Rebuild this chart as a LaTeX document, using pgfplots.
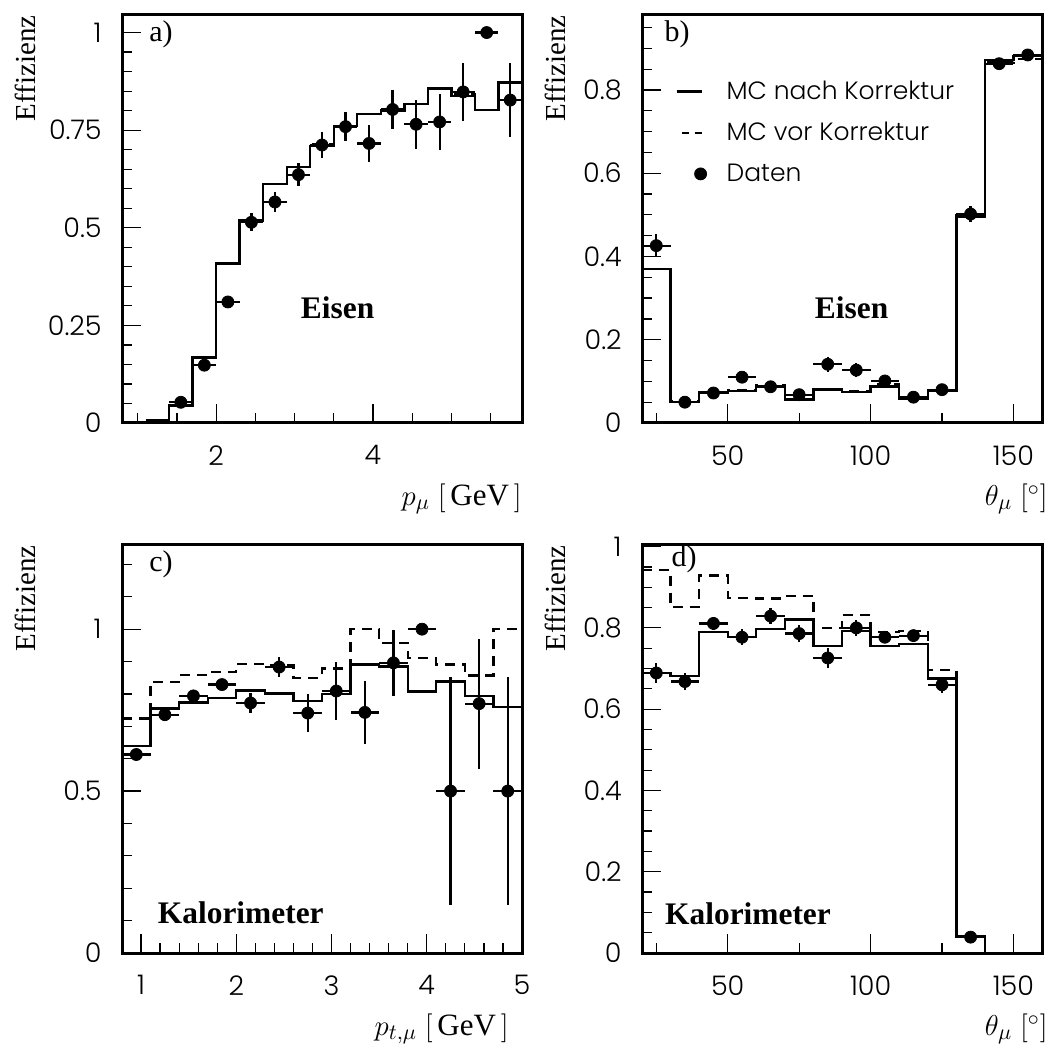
\documentclass[border=0pt]{standalone}
\usepackage{fontspec}
\setmainfont{Liberation Serif}
\newfontfamily\paw{Poppins Light}
\usepackage{pgfplots}
\usepackage{pgfplotstable}
\pgfplotsset{compat=1.18}

% ---------------- data ----------------
% efficiency vs p_mu (iron)
\pgfplotstableread{
x    y     ey
1.55 0.053 0.008
1.85 0.148 0.012
2.15 0.310 0.015
2.45 0.514 0.023
2.75 0.566 0.026
3.05 0.636 0.030
3.35 0.712 0.033
3.65 0.759 0.037
3.95 0.716 0.047
4.25 0.803 0.050
4.55 0.765 0.062
4.85 0.771 0.072
5.15 0.848 0.074
5.45 1.000 0.000
5.75 0.827 0.094
}\adata
\pgfplotstableread{
x   y
1.1 0.007
1.4 0.043
1.7 0.168
2.0 0.408
2.3 0.519
2.6 0.612
2.9 0.655
3.2 0.709
3.5 0.760
3.8 0.791
4.1 0.800
4.4 0.817
4.7 0.857
5.0 0.837
5.3 0.801
5.6 0.872
5.9 0.872
}\amcnach
\pgfplotstableread{
x   y
1.1 0.007
1.4 0.045
1.7 0.168
2.0 0.408
2.3 0.519
2.6 0.612
2.9 0.655
3.2 0.714
3.5 0.760
3.8 0.791
4.1 0.800
4.4 0.817
4.7 0.857
5.0 0.842
5.3 0.801
5.6 0.872
5.9 0.872
}\amcvor

% efficiency vs theta_mu (iron)
\pgfplotstableread{
x   y     ey
25  0.426 0.028
35  0.050 0.005
45  0.072 0.006
55  0.110 0.008
65  0.087 0.008
75  0.068 0.008
85  0.141 0.018
95  0.127 0.016
105 0.101 0.010
115 0.062 0.008
125 0.080 0.008
135 0.502 0.020
145 0.863 0.010
155 0.884 0.010
}\bdata
\pgfplotstableread{
x   y
20  0.370
30  0.050
40  0.073
50  0.077
60  0.089
70  0.056
80  0.080
90  0.075
100 0.088
110 0.059
120 0.077
130 0.496
140 0.872
150 0.882
160 0.882
}\bmcnach
\pgfplotstableread{
x   y
20  0.370
30  0.052
40  0.075
50  0.078
60  0.091
70  0.067
80  0.081
90  0.076
100 0.092
110 0.060
120 0.079
130 0.498
140 0.866
150 0.874
160 0.874
}\bmcvor

% efficiency vs p_t,mu (calorimeter)
\pgfplotstableread{
x    y     ey
0.95 0.613 0.010
1.25 0.736 0.012
1.55 0.794 0.010
1.85 0.829 0.012
2.15 0.772 0.030
2.45 0.883 0.031
2.75 0.741 0.059
3.05 0.809 0.089
3.35 0.743 0.098
3.65 0.896 0.101
3.95 1.000 0.000
4.25 0.500 0.352
4.55 0.770 0.201
4.85 0.500 0.352
}\cdata
\pgfplotstableread{
x   y
0.8 0.640
1.1 0.755
1.4 0.773
1.7 0.787
2.0 0.811
2.3 0.801
2.6 0.778
2.9 0.800
3.2 0.891
3.5 0.885
3.8 0.808
4.1 0.839
4.4 0.794
4.7 0.760
5.0 0.760
}\cmcnach
\pgfplotstableread{
x   y
0.8 0.724
1.1 0.837
1.4 0.859
1.7 0.868
2.0 0.893
2.3 0.888
2.6 0.850
2.9 0.878
3.2 1.000
3.5 0.957
3.8 0.911
4.1 0.891
4.4 0.857
4.7 1.000
5.0 1.000
}\cmcvor

% efficiency vs theta_mu (calorimeter)
\pgfplotstableread{
x   y     ey
25  0.689 0.025
35  0.668 0.020
45  0.811 0.016
55  0.777 0.020
65  0.829 0.020
75  0.786 0.020
85  0.726 0.025
95  0.800 0.020
105 0.777 0.015
115 0.781 0.012
125 0.660 0.020
135 0.039 0.005
}\ddata
\pgfplotstableread{
x   y
20  0.689
30  0.681
40  0.790
50  0.777
60  0.798
70  0.821
80  0.755
90  0.793
100 0.755
110 0.760
120 0.675
130 0.041
140 0.000
160 0.000
}\dmcnach
\pgfplotstableread{
x   y
20  0.942
30  0.851
40  0.929
50  0.874
60  0.872
70  0.878
80  0.800
90  0.831
100 0.790
110 0.792
120 0.697
130 0.041
140 0.000
160 0.000
}\dmcvor

% ---------------- styles ----------------
\pgfplotsset{
  panel/.style={
    scale only axis, width=200pt, height=204pt,
    axis line style={line width=1.5pt},
    tick align=inside, tick pos=left,
    major tick length=9.5pt, minor tick length=5pt,
    every tick/.style={black, line width=0.6pt},
    tick label style={font=\paw\fontsize{13.5}{15}\selectfont},
    /pgf/number format/assume math mode=true,
    y tick label style={anchor=east, inner sep=0pt, xshift=-10pt},
    x tick label style={anchor=north, inner sep=0pt, yshift=-11pt},
    xlabel style={at={(axis description cs:1,0)}, anchor=east, inner sep=0pt,
      yshift=-38pt, font=\fontsize{15.5}{18}\selectfont},
  },
  hist/.style={const plot, no marks, black, line width=1.2pt},
  histd/.style={hist, dash pattern=on 5pt off 3.5pt},
  data/.style={only marks, mark=*, mark size=3pt, black,
    error bars/x dir=both, error bars/x fixed=#1,
    error bars/y dir=both, error bars/y explicit,
    error bars/error mark=none,
    error bars/error bar style={line width=1.1pt, black}},
}
\tikzset{
  ylab/.style={rotate=90, anchor=base east, inner sep=0pt, font=\fontsize{14.5}{17}\selectfont},
  plab/.style={inner sep=0pt, font=\fontsize{15}{17}\selectfont},
  tlab/.style={inner sep=0pt, font=\bfseries\fontsize{15.7}{18}\selectfont},
}

\begin{document}
\begin{tikzpicture}
\useasboundingbox (0,0) rectangle (526pt,523.5pt);

% ---- a) ----
\begin{axis}[panel, name=pa, at={(61pt,312pt)}, anchor=south west,
  xmin=0.8, xmax=5.9, ymin=0, ymax=1.045,
  xtick={2,4}, minor xtick={1,1.5,2.5,3,3.5,4.5,5,5.5},
  ytick={0,0.25,0.5,0.75,1},
  minor ytick={0.05,0.1,0.15,0.2,0.3,0.35,0.4,0.45,0.55,0.6,0.65,0.7,0.8,0.85,0.9,0.95},
  xlabel={$p_{\mu}\ \bigl[\,\mbox{GeV}\,\bigr]$}, xlabel style={xshift=0pt}]
\addplot[histd] table {\amcvor};
\addplot[hist] table {\amcnach};
\addplot[data=0.15] table[x=x, y=y, y error=ey] {\adata};
\node[plab] at (axis description cs:0.0975,0.953) {a)};
\node[tlab] at (axis description cs:0.539,0.282) {Eisen};
\end{axis}
\node[ylab] at ([xshift=-43.5pt]pa.north west) {Effizienz};

% ---- b) ----
\begin{axis}[panel, name=pb, at={(321pt,312pt)}, anchor=south west,
  xmin=20, xmax=160, ymin=0, ymax=0.98,
  xtick={50,100,150}, minor xtick={25,75,125},
  ytick={0,0.2,0.4,0.6,0.8},
  minor ytick={0.05,0.1,0.15,0.25,0.3,0.35,0.45,0.5,0.55,0.65,0.7,0.75,0.85,0.9,0.95},
  xlabel={$\theta_{\mu}\ [^{\circ}]$}, xlabel style={xshift=3pt},
  legend style={at={(axis description cs:0.0825,0.84)}, anchor=north west,
    draw=none, fill=none, inner sep=0pt, row sep=10pt, column sep=10pt,
    nodes={inner sep=0pt},
    font=\paw\fontsize{12.5}{14}\selectfont},
  legend cell align=left]
\addlegendimage{legend image code/.code={%
  \path[draw=none, fill=none] (0pt,-4pt) rectangle (15pt,4pt);
  \draw[black, line width=1.2pt] (0pt,0pt) -- (12.5pt,0pt);}}
\addlegendentry{MC nach Korrektur}
\addlegendimage{legend image code/.code={%
  \path[draw=none, fill=none] (0pt,-4pt) rectangle (15pt,4pt);
  \draw[black, line width=1.2pt, dash pattern=on 3.5pt off 3pt] (2.5pt,0pt) -- (12.5pt,0pt);}}
\addlegendentry{MC vor Korrektur}
\addlegendimage{legend image code/.code={%
  \path[draw=none, fill=none] (0pt,-4pt) rectangle (15pt,4pt);
  \draw[black, mark=*, mark size=3pt, only marks] plot coordinates {(12pt,0pt)};}}
\addlegendentry{Daten}
\addplot[histd, forget plot] table {\bmcvor};
\addplot[hist, forget plot] table {\bmcnach};
\addplot[data=5, forget plot] table[x=x, y=y, y error=ey] {\bdata};
\node[plab] at (axis description cs:0.0875,0.953) {b)};
\node[tlab] at (axis description cs:0.524,0.282) {Eisen};
\end{axis}
\node[ylab] at ([xshift=-38.5pt]pb.north west) {Effizienz};

% ---- c) ----
\begin{axis}[panel, name=pc, at={(61pt,47pt)}, anchor=south west,
  xmin=0.8, xmax=5.0, ymin=0, ymax=1.26,
  xtick={1,2,3,4,5},
  minor xtick={1.2,1.4,1.6,1.8,2.2,2.4,2.6,2.8,3.2,3.4,3.6,3.8,4.2,4.4,4.6,4.8},
  ytick={0,0.5,1},
  minor ytick={0.1,0.2,0.3,0.4,0.6,0.7,0.8,0.9,1.1,1.2},
  xlabel={$p_{t,\mu}\ \bigl[\,\mbox{GeV}\,\bigr]$}, xlabel style={xshift=-6.5pt}]
\addplot[histd] table {\cmcvor};
\addplot[hist] table {\cmcnach};
\addplot[data=0.15] table[x=x, y=y, y error=ey] {\cdata};
\node[plab] at (axis description cs:0.0975,0.953) {c)};
\node[tlab] at (axis description cs:0.297,0.098) {Kalorimeter};
\end{axis}
\node[ylab] at ([xshift=-43.5pt]pc.north west) {Effizienz};

% ---- d) ----
\begin{axis}[panel, name=pd, at={(321pt,47pt)}, anchor=south west,
  xmin=20, xmax=160, ymin=0, ymax=1.004,
  xtick={50,100,150}, minor xtick={25,75,125},
  ytick={0,0.2,0.4,0.6,0.8,1},
  minor ytick={0.05,0.1,0.15,0.25,0.3,0.35,0.45,0.5,0.55,0.65,0.7,0.75,0.85,0.9,0.95},
  xlabel={$\theta_{\mu}\ [^{\circ}]$}, xlabel style={xshift=3pt}]
\addplot[histd] table {\dmcvor};
\addplot[hist] table {\dmcnach};
\addplot[data=5] table[x=x, y=y, y error=ey] {\ddata};
\node[plab] at (axis description cs:0.105,0.965) {d)};
\node[tlab] at (axis description cs:0.265,0.095) {Kalorimeter};
\end{axis}
\node[ylab] at ([xshift=-38.5pt]pd.north west) {Effizienz};
\end{tikzpicture}
\end{document}
